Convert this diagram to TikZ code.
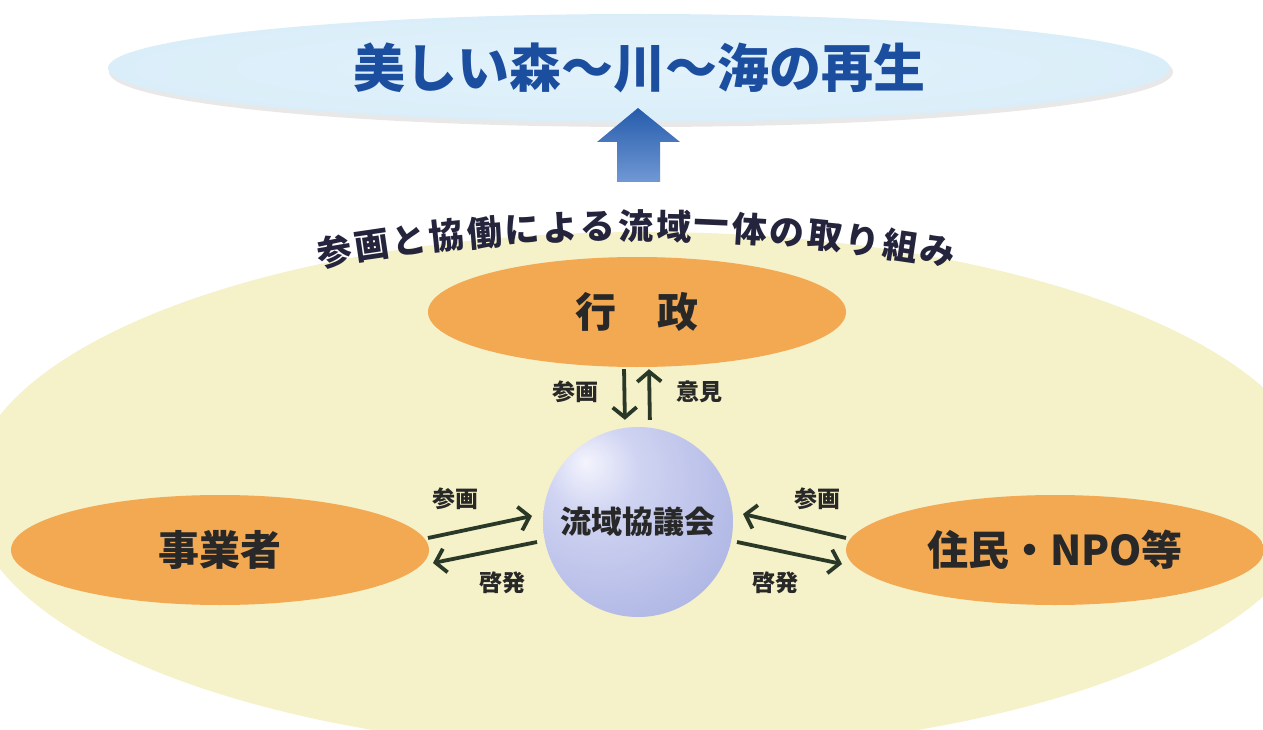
\documentclass[tikz,border=0pt]{standalone}
\usepackage{fontspec}
\newfontfamily\cjk{Noto Sans CJK JP}
\usetikzlibrary{shapes.geometric,arrows.meta}
\definecolor{bgyellow}{RGB}{245,241,200}
\definecolor{orng}{RGB}{243,168,82}
\definecolor{titleblue}{RGB}{28,78,160}
\definecolor{t0}{RGB}{226,242,251}
\definecolor{t1}{RGB}{214,236,248}
\definecolor{t2}{RGB}{192,222,240}
\definecolor{sph0}{RGB}{244,244,253}
\definecolor{sph1}{RGB}{208,212,242}
\definecolor{sph2}{RGB}{165,174,224}
\definecolor{sph3}{RGB}{140,150,212}
\definecolor{arrgreen}{RGB}{42,56,40}
\definecolor{txt}{RGB}{40,40,40}
\definecolor{arrtop}{RGB}{38,92,172}
\definecolor{arrbot}{RGB}{112,152,212}
\pgfdeclareradialshading{bgshade}{\pgfpointorigin}{color(0bp)=(bgyellow); color(38bp)=(bgyellow); color(50bp)=(white); color(80bp)=(white)}
\pgfdeclareradialshading{orshade}{\pgfpointorigin}{color(0bp)=(orng); color(45bp)=(orng); color(50bp)=(bgyellow); color(80bp)=(bgyellow)}
\pgfdeclareradialshading{titleshade}{\pgfpointorigin}{color(0bp)=(t0); color(38bp)=(t1); color(50bp)=(t2); color(80bp)=(t2)}
\pgfdeclareradialshading{sphshade}{\pgfpoint{-14bp}{16bp}}{color(0bp)=(sph0); color(12bp)=(sph1); color(45bp)=(sph2); color(80bp)=(sph3)}
\tikzset{
  orell/.style={ellipse, shading=orshade, minimum width=418pt, minimum height=110pt, inner sep=0pt, text=txt, font=\cjk\bfseries\fontsize{41pt}{41pt}\selectfont},
  arr/.style={draw=arrgreen, line width=3.8pt, -{Straight Barb[length=10pt,width=24pt,line width=3.8pt]}},
  lbl/.style={text=txt, font=\cjk\bfseries\fontsize{23pt}{23pt}\selectfont, inner sep=0pt},
  arcchar/.style={text=txt!90!blue, font=\cjk\bfseries\fontsize{35pt}{35pt}\selectfont, inner sep=0pt}
}
\begin{document}
\begin{tikzpicture}[x=1pt,y=-1pt]
\useasboundingbox (0,0) rectangle (1263,730);
\fill[white] (0,0) rectangle (1263,730);
% background halo
\node[ellipse, shading=bgshade, minimum width=1350pt, minimum height=520pt, inner sep=0pt] (halo) at (645,492) {};
% title ellipse with shadow
\fill[gray, opacity=0.18] (641,72) ellipse [x radius=532, y radius=55];
\node[ellipse, shading=titleshade, minimum width=1062pt, minimum height=108pt, inner sep=0pt,
      text=titleblue, font=\cjk\bfseries\fontsize{52pt}{52pt}\selectfont] (title) at (639,68) {美しい森～川～海の再生};
% big blue arrow
\shade[top color=arrtop, bottom color=arrbot]
  (638,108) -- (680,142) -- (660,142) -- (660,182) -- (617,182) -- (617,142) -- (597,142) -- cycle;
% curved caption
\foreach \c [count=\i from 0] in {参,画,と,協,働,に,よ,る,流,域,一,体,の,取,り,組,み}{
  \pgfmathsetmacro\ang{(\i-8)*1.2}
  \node[arcchar, rotate=-\ang] (w\i) at ({636+1810*sin(\ang)}, {2036-1810*cos(\ang)}) {\c};
}
% actors
\node[orell] (gyosei) at (637,312) {行　政};
\node[orell] (jigyo) at (220,550) {事業者};
\node[orell] (jumin) at (1055,550) {住民・NPO等};
\node[circle, shading=sphshade, minimum size=190pt, inner sep=0pt, text=txt,
      font=\cjk\bfseries\fontsize{31pt}{31pt}\selectfont] (council) at (638,522) {流域協議会};
% vertical arrows
\draw[arr, shorten <=2pt, shorten >=7pt] ([xshift=-13pt]gyosei.south) -- ([xshift=-13pt]council.north);
\draw[arr, shorten <=7pt, shorten >=2pt] ([xshift=12pt]council.north) -- ([xshift=12pt]gyosei.south);
\node[lbl] (l1) at (575,392) {参画};
\node[lbl] (l2) at (699,392) {意見};
% side arrow end points
\coordinate (a1) at (428,538);
\coordinate (a2) at (532,516);
\coordinate (b1) at (537,542);
\coordinate (b2) at (433,563);
\coordinate (c1) at (846,538);
\coordinate (c2) at (743,514);
\coordinate (d1) at (737,542);
\coordinate (d2) at (842,564);
\draw[arr] (a1) -- (a2);
\draw[arr] (b1) -- (b2);
\draw[arr] (c1) -- (c2);
\draw[arr] (d1) -- (d2);
\node[lbl] (l3) at (455,499) {参画};
\node[lbl] (l4) at (502,583) {啓発};
\node[lbl] (l5) at (817,499) {参画};
\node[lbl] (l6) at (775,583) {啓発};
\end{tikzpicture}
\end{document}
